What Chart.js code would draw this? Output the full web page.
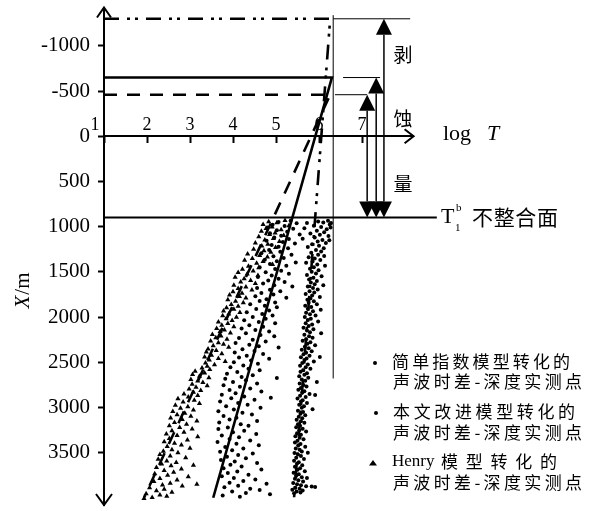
<!DOCTYPE html>
<html>
<head>
<meta charset="utf-8">
<script src="https://cdn.jsdelivr.net/npm/chart.js@4.4.1/dist/chart.umd.min.js"></script>
<style>
  html, body { margin: 0; padding: 0; background: #fff; }
  #wrap { width: 591px; height: 511px; position: relative; }
</style>
</head>
<body>
<div id="wrap"><canvas id="c"></canvas></div>
<script>
// ---- tick labels ----
const depthTicks = [-1000, -500, 0, 500, 1000, 1500, 2000, 2500, 3000, 3500];
const logTTicks = [1, 2, 3, 4, 5, 6, 7];

// ---- erosion tops of each model and the T1b unconformity (m) ----
const topSimple = -1300;
const topImproved = -650;
const topHenry = -460;
const unconformity = 900;

// ---- compaction trend lines [log T, depth m] ----
const simpleFit = [[1, topSimple], [6.26, topSimple], [5.42, 4000]];
const improvedFit = [[1, topImproved], [6.30, topImproved], [3.54, 4000]];
const henryFit = [[1, topHenry], [6.26, topHenry], [1.93, 4000]];

// ---- measured sonic-depth points converted by the simple exponential model ----
const simplePts = [
  [6.21,935],[5.98,942],[6.10,955],[5.72,960],[6.25,975],[5.88,990],[6.05,1005],[5.66,1018],[6.18,1030],[5.95,1046],
  [6.12,1062],[5.80,1075],[6.02,1090],[6.22,1104],[5.90,1120],[5.62,1135],[6.08,1148],[5.97,1165],[6.16,1180],[5.84,1196],
  [6.00,1212],[5.74,1226],[6.11,1240],[5.93,1258],[6.05,1275],[5.82,1290],[6.28,960],[6.27,1010],[6.24,1150],
  [5.98,1310],[6.12,1324],[5.76,1338],[5.90,1352],[6.03,1370],[5.85,1386],[5.70,1400],[5.96,1418],[6.14,1432],[5.88,1450],
  [5.79,1466],[5.99,1482],[5.83,1500],[5.93,1518],[5.72,1534],[6.06,1550],[5.87,1566],[5.77,1584],[5.95,1600],[5.81,1618],
  [5.90,1636],[6.10,1648],[5.74,1662],[5.86,1680],[5.97,1696],[5.78,1714],[5.89,1730],[5.69,1746],[5.84,1762],[6.02,1778],[5.80,1794],
  [5.73,1810],[5.88,1826],[5.76,1842],[5.95,1858],[5.68,1874],[5.82,1890],[5.74,1908],[6.04,1920],[5.86,1936],[5.70,1952],
  [5.79,1968],[5.92,1984],[5.67,2000],[5.81,2018],[5.74,2034],[5.98,2050],[5.69,2068],[5.84,2084],[5.76,2100],[5.64,2118],
  [5.87,2134],[5.72,2150],[5.79,2168],[6.05,2180],[5.66,2196],[5.77,2212],[5.85,2228],[5.70,2246],[5.62,2262],[5.80,2278],
  [5.73,2296],[5.91,2312],[5.67,2330],[5.76,2346],[5.60,2362],[5.83,2380],[5.70,2396],[6.02,2442],
  [5.64,2412],[5.78,2428],[5.58,2444],[5.71,2460],[5.66,2476],[5.88,2492],[5.61,2508],[5.74,2524],[5.56,2540],[5.69,2556],
  [5.80,2572],[5.63,2590],[5.57,2606],[5.72,2622],[5.66,2640],[5.54,2656],[5.75,2672],[5.60,2690],[5.68,2706],[5.95,2720],
  [5.55,2736],[5.64,2752],[5.71,2770],[5.58,2786],[5.52,2804],[5.66,2820],[5.61,2836],[5.78,2852],[5.56,2870],[5.69,2886],
  [5.50,2902],[5.62,2920],[5.58,2936],[5.72,2952],[5.54,2970],[5.65,2986],[5.60,3004],[5.85,3020],[5.51,3036],[5.63,3052],
  [5.57,3070],[5.68,3086],[5.91,2862],
  [5.53,3104],[5.61,3120],[5.48,3136],[5.58,3152],[5.66,3170],[5.51,3186],[5.56,3202],[5.47,3220],[5.62,3236],[5.54,3252],
  [5.70,3268],[5.49,3286],[5.58,3302],[5.45,3320],[5.55,3336],[5.64,3352],[5.50,3370],[5.44,3388],[5.57,3404],[5.52,3420],
  [5.68,3436],[5.46,3454],[5.55,3470],[5.60,3488],[5.43,3504],[5.51,3520],[5.58,3538],[5.47,3556],[5.65,3572],[5.42,3590],
  [5.53,3606],[5.49,3622],[5.61,3640],[5.44,3658],[5.56,3674],[5.50,3690],[5.67,3706],[5.41,3722],[5.53,3740],[5.47,3756],
  [5.60,3772],[5.72,3780],[5.44,3790],[5.52,3806],[5.63,3820],[5.40,3836],[5.49,3850],[5.58,3862],[5.70,3872],[5.83,3876],
  [5.91,3880],[5.45,3888],[5.55,3900],[5.38,3912],[5.62,3920],[5.48,3930],[5.57,3942],[5.42,3950],[5.74,3503]
];

// ---- measured points converted by the improved model ----
const improvedPts = [
  [5.34,936],[5.06,949],[5.48,963],[4.92,978],[5.20,992],[4.80,1010],[5.40,1024],[5.02,1041],[5.26,1057],[4.86,1073],
  [5.55,1086],[5.12,1102],[4.96,1120],[5.30,1137],[4.78,1155],[5.16,1171],[5.44,1186],[4.90,1204],[5.06,1221],[5.28,1240],[4.84,1258],
  [5.10,1277],[4.66,1295],[5.36,1310],[4.94,1328],[5.18,1347],[4.74,1365],[5.02,1383],[5.46,1396],[4.86,1414],[5.24,1432],
  [4.62,1450],[4.98,1468],[5.12,1487],[4.76,1505],[5.30,1520],[4.90,1540],[4.58,1558],[5.06,1577],[4.82,1595],[5.20,1612],
  [4.70,1630],[4.96,1649],[5.38,1662],[4.56,1680],[4.86,1698],[5.10,1716],[4.66,1734],[4.94,1752],[4.52,1771],[5.24,1786],[4.78,1804],
  [4.62,1822],[4.98,1840],[4.40,1858],[4.74,1876],[5.02,1893],[4.54,1911],[4.84,1929],[4.32,1947],[4.68,1966],[4.92,1983],
  [4.46,2001],[4.76,2019],[4.26,2037],[4.60,2055],[4.98,2070],[4.38,2090],[4.70,2108],[4.20,2126],[4.52,2144],[4.84,2161],
  [4.30,2180],[4.64,2198],[4.96,2214],[4.14,2233],[4.46,2251],[4.76,2270],[4.06,2288],[4.38,2306],[4.60,2324],[5.06,2338],
  [4.22,2357],[4.50,2375],[4.04,2393],[4.70,2410],[4.32,2428],[4.14,2447],[4.84,2462],[4.42,2481],[4.02,2500],[4.58,2518],[4.24,2536],
  [3.94,2555],[4.36,2573],[4.62,2590],[4.10,2609],[3.86,2627],[4.46,2645],[4.20,2663],[5.02,2676],[3.82,2682],[4.30,2700],
  [4.00,2718],[4.56,2736],[3.78,2754],[4.16,2772],[4.40,2790],[3.92,2808],[4.66,2824],[4.06,2843],[3.74,2861],[4.26,2879],[4.88,2893],[3.96,2898],
  [4.50,2916],[3.70,2934],[4.12,2952],[4.34,2970],[3.84,2988],[4.64,3005],[4.02,3024],[3.66,3042],[4.22,3060],[4.44,3078],
  [3.78,3096],[4.08,3114],[3.92,3133],[4.56,3150],[3.68,3168],[4.18,3186],[4.36,3204],
  [3.88,3222],[3.66,3240],[4.26,3258],[4.00,3276],[4.54,3294],[3.74,3312],[4.14,3330],[3.92,3349],[4.40,3366],[3.64,3384],
  [4.08,3402],[4.60,3418],[3.82,3438],[4.24,3456],[3.98,3474],[3.70,3492],[4.46,3510],[4.12,3528],[3.86,3546],[4.30,3563],
  [3.72,3582],[4.04,3600],[4.56,3616],[3.94,3636],[4.20,3654],[3.78,3672],[4.66,3688],[4.10,3708],[3.88,3726],[4.36,3744],
  [3.74,3762],[4.02,3780],[4.52,3797],[4.24,3815],[3.92,3833],[4.78,3846],[4.12,3866],[3.80,3884],[4.40,3900],[4.62,3915],
  [3.98,3932],[4.30,3948],[4.86,3960],[3.76,3975],[4.16,3990]
];

// ---- measured points converted by the Henry model ----
const henryPts = [
  [5.21,932],[4.83,946],[5.02,958],[4.70,977],[5.30,990],[4.91,1003],[4.77,1021],[5.12,1035],[4.66,1052],[4.98,1070],[4.85,1088],[5.18,1097],
  [4.60,1112],[4.94,1131],[4.74,1147],[5.08,1163],[4.52,1180],[4.81,1196],[4.67,1215],[4.99,1232],[4.48,1250],[4.72,1266],[4.88,1284],
  [4.34,1302],[4.62,1318],[4.80,1335],[4.45,1352],[4.27,1371],[4.70,1386],[4.55,1404],[4.92,1418],[4.36,1437],[4.60,1455],[4.22,1470],
  [4.47,1490],[4.12,1507],[4.33,1523],[4.58,1541],[4.05,1560],[4.26,1577],[4.41,1596],[4.18,1612],[4.52,1630],[4.02,1648],
  [4.30,1667],[4.12,1685],[4.44,1702],[4.00,1720],[4.21,1738],
  [3.92,1756],[4.15,1772],[4.30,1790],[3.88,1808],[4.06,1826],[4.24,1842],[3.96,1861],[4.12,1880],[3.85,1896],
  [4.02,1914],[3.78,1932],[4.16,1950],[3.90,1966],[3.76,1985],[4.08,2003],[3.84,2020],[3.98,2038],
  [3.66,2056],[3.88,2072],[3.74,2091],[4.02,2108],[3.62,2126],[3.80,2143],[3.70,2161],[3.94,2176],
  [3.52,2194],[3.72,2211],[3.60,2229],[3.86,2247],[3.48,2266],[3.66,2284],[3.78,2300],[3.54,2318],[3.90,2334],
  [3.42,2353],[3.61,2370],[3.38,2388],[3.74,2405],[3.50,2424],[3.34,2441],[3.66,2459],[3.45,2476],[3.82,2492],[3.36,2510],[3.57,2528],[3.40,2546],
  [3.28,2565],[3.46,2582],[3.12,2600],[3.34,2618],[3.06,2636],[3.22,2655],[3.44,2671],[3.02,2690],[3.18,2707],[3.30,2725],
  [3.05,2744],[3.40,2760],[3.14,2778],[2.98,2796],[3.25,2814],[3.08,2832],
  [2.86,2851],[3.18,2868],[2.96,2886],[2.72,2904],[3.10,2922],[2.84,2940],[3.22,2956],[2.66,2975],[2.95,2992],[2.78,3010],
  [3.08,3028],[2.60,3046],[2.88,3064],[2.70,3082],[3.02,3098],[2.55,3117],[2.82,3135],[3.16,3150],[2.64,3168],[2.92,3186],[2.52,3204],
  [2.76,3223],[3.05,3240],[2.58,3258],[2.86,3276],[2.45,3294],[2.70,3311],[3.18,3326],[2.52,3345],[2.94,3362],[2.40,3380],
  [2.64,3398],[2.80,3416],[2.47,3433],[3.00,3451],[2.58,3468],[2.38,3486],
  [2.72,3503],[2.30,3521],[2.54,3539],[2.90,3556],[2.26,3574],[2.46,3592],[2.68,3610],[2.34,3627],[3.08,3640],[2.56,3646],
  [2.22,3664],[2.80,3681],[2.40,3699],[2.62,3717],[2.18,3735],[2.48,3752],[2.96,3768],[2.30,3787],[2.70,3804],[2.16,3821],
  [2.54,3840],[3.16,3850],[2.36,3858],[2.82,3870],
  [2.06,3890],[2.40,3905],[2.22,3922],[2.58,3938],[1.98,3956],[2.30,3970],[2.46,3984],[2.12,3996],[1.93,4008]
];

const toXY = arr => arr.map(([x, y]) => ({ x, y }));

// erosion arrows: [log T position, top of removed section]
const erosionArrows = [[7.12, topHenry], [7.33, topImproved], [7.51, topSimple]];

const annotate = {
  id: 'annotate',
  afterDraw(chart) {
    const { ctx, chartArea: ca } = chart;
    const xs = chart.scales.x, ys = chart.scales.y;
    const px = v => xs.getPixelForValue(v);
    const py = v => ys.getPixelForValue(v);
    ctx.save();
    ctx.strokeStyle = '#000';
    ctx.fillStyle = '#000';
    ctx.lineCap = 'butt';

    // axis arrowheads
    ctx.lineWidth = 2;
    const ax = px(1), ay0 = py(0);
    ctx.beginPath();
    ctx.moveTo(ax - 7, ca.top + 10); ctx.lineTo(ax, ca.top); ctx.lineTo(ax + 7, ca.top + 10);
    ctx.moveTo(ax - 8, ca.bottom - 11); ctx.lineTo(ax, ca.bottom); ctx.lineTo(ax + 8, ca.bottom - 11);
    ctx.moveTo(ca.right - 9, ay0 - 7); ctx.lineTo(ca.right, ay0); ctx.lineTo(ca.right - 9, ay0 + 7);
    ctx.stroke();

    // thin guide lines from each erosion top toward the arrows
    ctx.lineWidth = 1;
    ctx.beginPath();
    ctx.moveTo(px(6.33), py(topSimple)); ctx.lineTo(px(8.12), py(topSimple));
    ctx.moveTo(px(6.56), py(topImproved)); ctx.lineTo(px(7.42), py(topImproved));
    ctx.moveTo(px(6.37), py(topHenry)); ctx.lineTo(px(7.12), py(topHenry));
    // right frame of the fitted area
    ctx.moveTo(px(6.33), py(-1340)); ctx.lineTo(px(6.33), py(2680));
    ctx.stroke();

    // double arrows for the eroded thickness
    const hw = 8, hh = 16;
    const yb = py(unconformity);
    erosionArrows.forEach(([xv, top]) => {
      const x = px(xv), yt = py(top);
      ctx.lineWidth = 1.5;
      ctx.beginPath();
      ctx.moveTo(x, yt + hh); ctx.lineTo(x, yb - hh);
      ctx.stroke();
      ctx.beginPath();
      ctx.moveTo(x, yt); ctx.lineTo(x - hw, yt + hh); ctx.lineTo(x + hw, yt + hh); ctx.closePath();
      ctx.fill();
      ctx.beginPath();
      ctx.moveTo(x, yb); ctx.lineTo(x - hw, yb - hh); ctx.lineTo(x + hw, yb - hh); ctx.closePath();
      ctx.fill();
    });

    // 剥 蚀 量
    ctx.font = '19px "Noto Sans CJK SC"';
    ctx.textAlign = 'center';
    ctx.textBaseline = 'middle';
    ctx.fillText('剥', 403, 55);
    ctx.fillText('蚀', 403, 119);
    ctx.fillText('量', 403, 184);

    // x axis title
    ctx.textAlign = 'left';
    ctx.textBaseline = 'alphabetic';
    ctx.font = '22px "Liberation Serif"';
    ctx.fillText('log', 443, 140);
    ctx.font = 'italic 22px "Liberation Serif"';
    ctx.fillText('T', 487, 140);

    // unconformity label
    const ub = py(unconformity);
    ctx.font = '22px "Liberation Serif"';
    ctx.fillText('T', 441, ub + 5);
    ctx.font = '11px "Liberation Serif"';
    ctx.fillText('1', 455, ub + 13);
    ctx.fillText('b', 456, ub - 7);
    spaced('不整合面', 472, 558, ub - 1, '21px "Noto Sans CJK SC"');

    // y axis title, rotated
    ctx.save();
    ctx.translate(23, 291);
    ctx.rotate(-Math.PI / 2);
    ctx.textBaseline = 'middle';
    ctx.font = 'italic 21px "Liberation Serif"';
    const wX = ctx.measureText('X').width;
    ctx.font = '21px "Liberation Serif"';
    const wR = ctx.measureText('/m').width;
    const s0 = -(wX + wR) / 2;
    ctx.font = 'italic 21px "Liberation Serif"';
    ctx.fillText('X', s0, 0);
    ctx.font = '21px "Liberation Serif"';
    ctx.fillText('/m', s0 + wX + 1, 0);
    ctx.restore();

    // legend
    ctx.beginPath(); ctx.arc(375, 363, 2, 0, Math.PI * 2); ctx.fill();
    ctx.beginPath(); ctx.arc(376, 413, 2, 0, Math.PI * 2); ctx.fill();
    ctx.beginPath(); ctx.moveTo(373, 460); ctx.lineTo(369, 465.5); ctx.lineTo(377, 465.5); ctx.closePath(); ctx.fill();
    const lf = '17px "Noto Sans CJK SC"';
    spaced('简单指数模型转化的', 392, 570, 362, lf);
    spaced('声波时差-深度实测点', 393, 582, 382, lf);
    spaced('本文改进模型转化的', 393, 575, 412, lf);
    spaced('声波时差-深度实测点', 393, 582, 433, lf);
    ctx.font = '17px "Liberation Serif"';
    ctx.textAlign = 'left';
    ctx.textBaseline = 'middle';
    ctx.fillText('Henry', 392, 462);
    spaced('模型转化的', 441, 557, 462, lf);
    spaced('声波时差-深度实测点', 393, 582, 483, lf);

    ctx.restore();

    function spaced(text, x0, x1, yc, font) {
      ctx.save();
      ctx.font = font;
      ctx.textAlign = 'left';
      ctx.textBaseline = 'middle';
      const chars = Array.from(text);
      const ws = chars.map(c => ctx.measureText(c).width);
      const tot = ws.reduce((a, b) => a + b, 0);
      const gap = chars.length > 1 ? (x1 - x0 - tot) / (chars.length - 1) : 0;
      let x = x0;
      chars.forEach((c, i) => { ctx.fillText(c, x, yc); x += ws[i] + gap; });
      ctx.restore();
    }
  }
};

const lineDs = (pts, dash, width) => ({
  data: toXY(pts), showLine: true, borderColor: '#000', borderWidth: width,
  borderDash: dash, pointRadius: 0, clip: false, order: 0, tension: 0
});

new Chart(document.getElementById('c'), {
  type: 'scatter',
  data: {
    datasets: [
      lineDs(simpleFit, [15, 8, 3, 5, 3, 8], 2.6),
      lineDs(improvedFit, [], 2.6),
      lineDs(henryFit, [13, 10], 2.6),
      { data: toXY([[1, unconformity], [8.74, unconformity]]), showLine: true, borderColor: '#000',
        borderWidth: 2, pointRadius: 0, clip: false, order: 0 },
      { label: '简单指数模型', data: toXY(simplePts), pointStyle: 'circle', pointRadius: 2,
        backgroundColor: '#000', borderWidth: 0, order: 1 },
      { label: '本文改进模型', data: toXY(improvedPts), pointStyle: 'circle', pointRadius: 2,
        backgroundColor: '#000', borderWidth: 0, order: 1 },
      { label: 'Henry 模型', data: toXY(henryPts), pointStyle: 'triangle', pointRadius: 3,
        backgroundColor: '#000', borderWidth: 0, order: 1 }
    ]
  },
  options: {
    responsive: true,
    maintainAspectRatio: false,
    animation: false,
    layout: { padding: { top: 7.5, bottom: 6, left: 0, right: 177.4 } },
    plugins: { legend: { display: false }, tooltip: { enabled: false } },
    scales: {
      x: {
        type: 'linear', min: 1, max: 8.2, position: { y: 0 },
        afterBuildTicks: s => { s.ticks = logTTicks.map(v => ({ value: v })); },
        afterFit: s => { s.paddingLeft = 0; s.paddingRight = 0; s.paddingTop = 0; s.paddingBottom = 0; },
        border: { display: true, color: '#000', width: 2 },
        grid: { drawOnChartArea: false, drawTicks: true, tickLength: 6, tickWidth: 2, tickColor: '#000' },
        ticks: {
          autoSkip: false, maxRotation: 0, color: '#000', padding: -28,
          font: { family: 'Liberation Serif', size: 18 },
          callback: v => (v === 1 ? '1    ' : String(v))
        }
      },
      y: {
        type: 'linear', reverse: true, min: -1425, max: 4080, position: 'left',
        afterBuildTicks: s => { s.ticks = depthTicks.map(v => ({ value: v })); },
        afterFit: s => { s.width = 104; s.paddingTop = 0; s.paddingBottom = 0; },
        border: { display: true, color: '#000', width: 2 },
        grid: { drawOnChartArea: false, drawTicks: true, tickLength: 6, tickWidth: 2, tickColor: '#000' },
        ticks: {
          autoSkip: false, color: '#000', padding: 8,
          font: { family: 'Liberation Serif', size: 21 },
          callback: v => String(v)
        }
      }
    }
  },
  plugins: [annotate]
});
</script>
</body>
</html>
